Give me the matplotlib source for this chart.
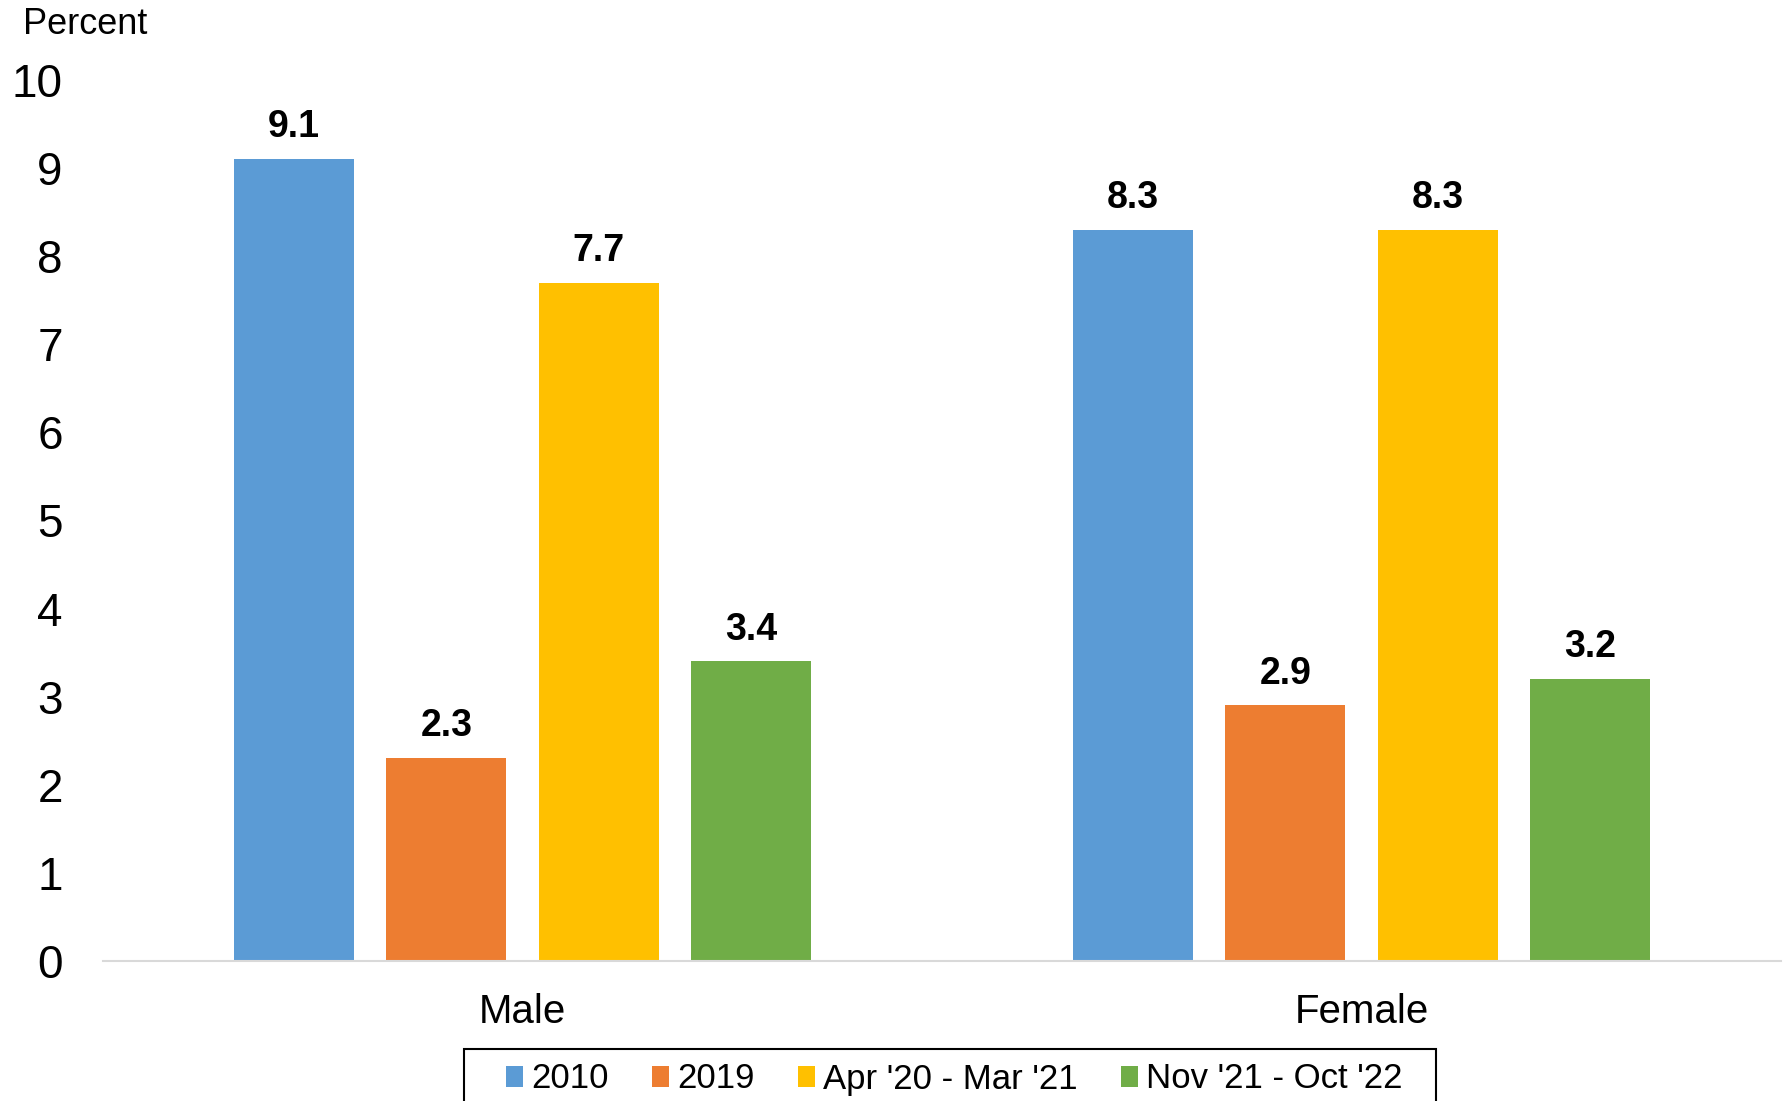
import numpy as np
import matplotlib.pyplot as plt

plt.rcParams['font.family'] = ['Liberation Sans', 'DejaVu Sans']

# data
groups = ['Male', 'Female']
periods = ['2010', '2019', "Apr '20 - Mar '21", "Nov '21 - Oct '22"]
v2010 = [9.1, 8.3]
v2019 = [2.3, 2.9]
v2021 = [7.7, 8.3]
v2022 = [3.4, 3.2]
colors = ['#5B9BD5', '#ED7D31', '#FFC000', '#70AD47']

fig = plt.figure(figsize=(17.88, 11.01), dpi=100)
ax = fig.add_axes([0.0576, 0.1272, 0.9384, 0.8001])

x = np.arange(len(groups))
w = 0.143
step = 0.1816
series = [v2010, v2019, v2021, v2022]
for i, vals in enumerate(series):
    pos = x + (i - 1.5) * step
    bars = ax.bar(pos, vals, width=w, color=colors[i], label=periods[i])
    for b, v in zip(bars, vals):
        ax.annotate(f'{v:.1f}', (b.get_x() + b.get_width() / 2, v),
                    xytext=(0, 10), textcoords='offset points',
                    ha='center', va='bottom', fontsize=27, fontweight='bold')

ax.set_xlim(-0.5, 1.5)
ax.set_ylim(0, 10)
ax.set_yticks(range(0, 11))
ax.set_xticks(x)
ax.set_xticklabels(groups)
ax.tick_params(axis='y', length=0, labelsize=33, pad=29)
ax.tick_params(axis='x', length=0, labelsize=29, pad=23)
for s in ['top', 'right', 'left']:
    ax.spines[s].set_visible(False)
ax.spines['bottom'].set_color('#d9d9d9')
ax.spines['bottom'].set_linewidth(1.5)

fig.text(0.013, 1 - 25 / 1101, 'Percent', fontsize=26, va='center', ha='left')

# legend without frame, box drawn separately
leg = fig.legend(loc='center left', bbox_to_anchor=(506 / 1788, 1 - 1079 / 1101),
                 ncol=4, fontsize=25, frameon=False,
                 handlelength=0.49, handleheight=0.55, handletextpad=0.23,
                 columnspacing=1.25, borderpad=0, borderaxespad=0)
box = plt.Rectangle((464 / 1788, -0.05), (1436 - 464) / 1788, 0.05 + 1 - 1049 / 1101,
                    transform=fig.transFigure, fill=False, edgecolor='black',
                    linewidth=1.5, clip_on=False)
fig.patches.append(box)

plt.savefig('out.png', dpi=100)
